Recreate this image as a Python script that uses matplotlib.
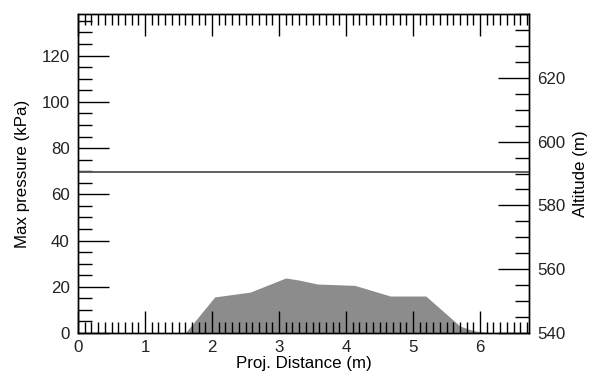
import numpy as np
import matplotlib.pyplot as plt
from matplotlib.ticker import MultipleLocator

plt.rcParams['font.family'] = ['Liberation Sans', 'DejaVu Sans']
plt.rcParams['text.color'] = '#222222'
plt.rcParams['xtick.labelcolor'] = '#222222'
plt.rcParams['ytick.labelcolor'] = '#222222'

# Max pressure profile along the projected distance
distance = [1.6, 2.04, 2.57, 3.1, 3.3, 3.57, 4.13, 4.66, 5.19, 5.7, 5.9, 6.18]
pressure = [0, 15.6, 17.7, 23.8, 22.9, 21.2, 20.6, 16.0, 16.0, 3.0, 1.0, 0]

# Altitude line (right axis)
alt_distance = [0, 6.73]
altitude = [590.5, 590.5]

fs = 12.2

fig = plt.figure(figsize=(5.96, 3.81), dpi=100)
ax = fig.add_axes([78/596, 1 - 333/381, (529-78)/596, (333-14)/381])

ax.fill_between(distance, pressure, 0, color='#8c8c8c', lw=0, zorder=1)
ax.set_xlim(0, 6.73)
ax.set_ylim(0, 138)

ax2 = ax.twinx()
ax2.plot(alt_distance, altitude, color='#555555', lw=1.3)
ax2.set_ylim(540, 640)
ax2.set_xlim(0, 6.73)

ax.xaxis.set_major_locator(MultipleLocator(1))
ax.xaxis.set_minor_locator(MultipleLocator(0.1))
ax.yaxis.set_major_locator(MultipleLocator(20))
ax.yaxis.set_minor_locator(MultipleLocator(5))
ax2.yaxis.set_major_locator(MultipleLocator(20))
ax2.yaxis.set_minor_locator(MultipleLocator(5))

ax.tick_params(axis='x', which='both', direction='in', top=True, bottom=True,
               labelsize=fs, pad=5)
ax.tick_params(axis='x', which='major', length=16, width=1)
ax.tick_params(axis='x', which='minor', length=8, width=1)
ax.tick_params(axis='y', which='both', direction='in', left=True, right=False,
               labelsize=fs, pad=6)
ax.tick_params(axis='y', which='major', length=22, width=1)
ax.tick_params(axis='y', which='minor', length=10, width=1)
ax2.tick_params(axis='y', which='both', direction='in', labelsize=fs, pad=6)
ax2.tick_params(axis='y', which='major', length=22, width=1)
ax2.tick_params(axis='y', which='minor', length=10, width=1)
ax.set_yticks([0, 20, 40, 60, 80, 100, 120])
ax2.set_yticks([540, 560, 580, 600, 620])

for a in (ax, ax2):
    for s in a.spines.values():
        s.set_linewidth(1)

ax.set_xlabel('Proj. Distance (m)', fontsize=fs, labelpad=1)
ax.set_ylabel('Max pressure (kPa)', fontsize=fs, labelpad=8)
ax2.set_ylabel('Altitude (m)', fontsize=fs, labelpad=5)

fig.savefig('out.png', dpi=100)
